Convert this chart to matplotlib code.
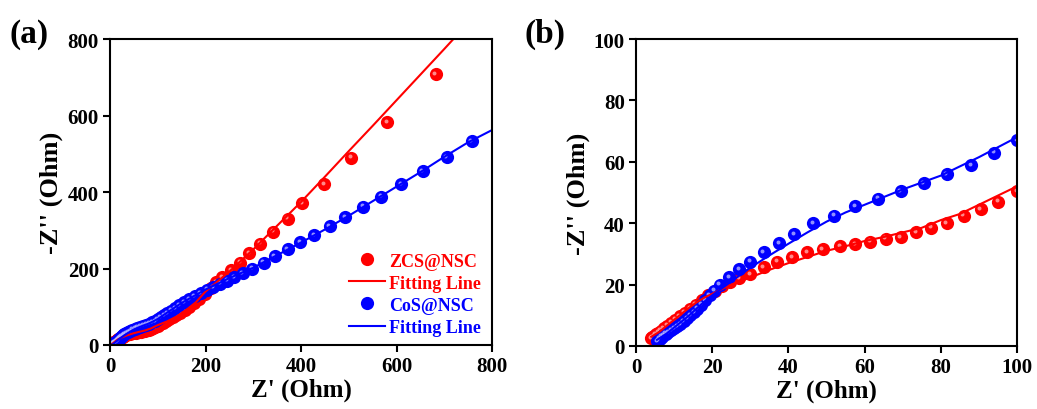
import matplotlib.pyplot as plt
from matplotlib.transforms import offset_copy
from matplotlib.lines import Line2D

plt.rcParams['font.family'] = ['Liberation Serif', 'DejaVu Serif']
plt.rcParams['font.weight'] = 'bold'

# ZCS@NSC measured points
zcs_re = [4.0, 4.3, 4.7, 5.2, 5.8, 6.5, 7.3, 8.2, 9.2, 10.3, 11.5, 12.8, 14.2, 15.7,
          17.3, 19.0, 20.8, 22.7, 24.8, 27.0, 30.0, 33.5, 37.0, 41.0, 45.0, 49.0,
          53.5, 57.5, 61.5, 65.5, 69.5, 73.5, 77.5, 81.5, 86.0, 90.5, 95.0, 100,
          105, 111, 117, 124, 131, 139, 147, 156, 165, 175, 186, 198, 211, 222,
          235, 253, 272, 292, 315, 342, 372, 402, 448, 505, 580, 682]
zcs_im = [2.5, 2.9, 3.3, 3.8, 4.3, 5.0, 5.7, 6.6, 7.6, 8.6, 9.7, 10.9, 12.2, 13.5,
          15.0, 16.5, 18.0, 19.5, 20.8, 22.0, 23.5, 25.6, 27.5, 29.0, 30.5, 31.5,
          32.5, 33.2, 34.0, 35.0, 35.5, 37.0, 38.5, 40.0, 42.5, 44.5, 47.0, 50.5,
          54, 58, 62, 67, 72, 78, 84, 92, 100, 110, 121, 134, 150, 164,
          178, 196, 215, 240, 265, 296, 330, 370, 421, 490, 582, 708]

# CoS@NSC measured points
cos_re = [5.5, 5.8, 6.2, 6.7, 7.2, 7.8, 8.5, 9.2, 10.0, 10.8, 11.6, 12.5, 13.4, 14.3,
          15.2, 16.1, 17.1, 18.2, 19.3, 20.5, 22.0, 24.5, 27.0, 30.0, 33.5, 37.5,
          41.5, 46.5, 52.0, 57.5, 63.5, 69.5, 75.5, 81.5, 88.0, 94.0, 100,
          106, 113, 120, 128, 136, 145, 155, 165, 177, 190, 203, 216, 230, 245,
          260, 278, 298, 322, 345, 372, 398, 428, 460, 492, 530, 568, 610, 655,
          705, 757]
cos_im = [1.5, 2.0, 2.4, 3.0, 3.5, 4.0, 4.6, 5.2, 5.8, 6.5, 7.2, 8.0, 9.0, 10.0,
          11.0, 12.2, 13.5, 15.0, 16.5, 18.0, 20.0, 22.5, 25.0, 27.5, 30.5, 33.5,
          36.5, 40.0, 42.5, 45.5, 48.0, 50.5, 53.0, 56.0, 59.0, 63.0, 67.0,
          72, 78, 84, 90, 97, 104, 112, 120, 128, 136, 145, 152, 160, 168,
          177, 188, 200, 215, 232, 250, 268, 287, 310, 335, 362, 388, 420, 455,
          492, 533]

# fitted curves
zcs_fit_re = [4, 6, 8, 10, 12, 14, 16, 18, 20, 25, 30, 35, 40, 45, 50, 55, 60, 65,
              70, 75, 80, 85, 90, 95, 100, 120, 140, 160, 180, 200, 250, 300, 350,
              400, 450, 500, 550, 600, 650, 700, 725]
zcs_fit_im = [3, 4.5, 6.5, 8.5, 10.5, 12.5, 14.3, 15.8, 17, 20, 22.3, 24.8, 27, 29,
              31, 32.5, 34.2, 35.5, 37, 38.5, 41, 43, 46, 49, 52, 62, 75, 92, 112,
              140, 192, 250, 312, 374, 440, 507, 573, 640, 707, 774, 808]
cos_fit_re = [5.5, 8, 10, 12, 14, 16, 18, 20, 25, 30, 35, 40, 45, 50, 55, 60, 70,
              80, 90, 100, 120, 150, 200, 250, 300, 350, 400, 450, 500, 550, 600,
              650, 700, 750, 800]
cos_fit_im = [2, 4, 6, 8, 10, 12.3, 14.5, 16.5, 21, 25.5, 29.5, 33.3, 37, 40.5,
              43.5, 46, 51, 55.5, 61.5, 68, 85, 110, 145, 175, 202, 235, 268, 302,
              338, 376, 414, 452, 492, 530, 562]

red = '#ff0000'
blue = '#0000ff'
MS = 9.5


def balls(ax, x, y, color, light, ms):
    ax.plot(x, y, 'o', color=color, ms=ms, mew=0, ls='none')
    tr = offset_copy(ax.transData, fig=ax.figure, x=-ms * 0.1, y=ms * 0.1, units='points')
    ax.plot(x, y, 'o', color=light, ms=ms * 0.3, mew=0, ls='none', transform=tr,
            alpha=0.75)


fig = plt.figure(figsize=(10.37, 4.10), dpi=100)
ax1 = fig.add_axes([0.1061, 0.1561, 0.3684, 0.7463])
ax2 = fig.add_axes([0.6133, 0.1537, 0.3674, 0.7487])

for ax, xmax, step in [(ax1, 800, 200), (ax2, 100, 20)]:
    balls(ax, zcs_re, zcs_im, red, '#ffb8b8', MS)
    balls(ax, cos_re, cos_im, blue, '#c0c0ff', MS)
    ax.plot(zcs_fit_re, zcs_fit_im, color=red, lw=1.5)
    ax.plot(cos_fit_re, cos_fit_im, color=blue, lw=1.5)
    ax.set_xlim(0, xmax)
    ax.set_ylim(0, xmax)
    ax.set_xticks(range(0, xmax + 1, step))
    ax.set_yticks(range(0, xmax + 1, step))
    ax.tick_params(direction='out', length=5, width=1.5, labelsize=15, pad=3)
    for s in ax.spines.values():
        s.set_linewidth(1.5)
    ax.set_xlabel("Z' (Ohm)", fontsize=18, fontweight='bold', labelpad=1)
    ax.set_ylabel("-Z'' (Ohm)", fontsize=19, fontweight='bold', labelpad=3)

handles = [
    Line2D([], [], marker='o', color=red, ms=MS, mew=0, ls='none'),
    Line2D([], [], color=red, lw=1.5),
    Line2D([], [], marker='o', color=blue, ms=MS, mew=0, ls='none'),
    Line2D([], [], color=blue, lw=1.5),
]
leg = ax1.legend(handles, ['ZCS@NSC', 'Fitting Line', 'CoS@NSC', 'Fitting Line'],
                 loc='lower right', frameon=False, fontsize=13, handlelength=2.0,
                 handletextpad=0.25, labelspacing=0.28, borderaxespad=0,
                 borderpad=0, bbox_to_anchor=(0.972, 0.03))
for txt, c in zip(leg.get_texts(), [red, red, blue, blue]):
    txt.set_color(c)
    txt.set_fontweight('bold')

fig.text(0.009, 0.895, '(a)', fontsize=24, fontweight='bold')
fig.text(0.506, 0.895, '(b)', fontsize=24, fontweight='bold')

fig.savefig('out.png', dpi=100)
